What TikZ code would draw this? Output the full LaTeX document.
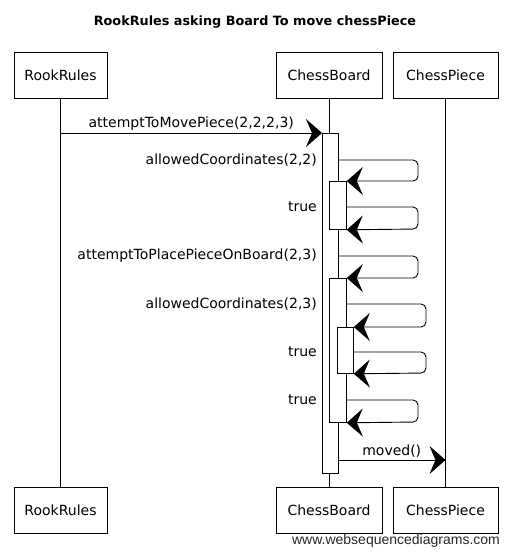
\documentclass[tikz,border=0pt]{standalone}
\usepackage{fontspec}
\setmainfont{DejaVu Sans}
\newfontfamily\wsdfont{Liberation Sans}
\usetikzlibrary{positioning,arrows.meta}

\begin{document}
\begin{tikzpicture}[
    x=1pt,y=-1pt,
    font=\fontsize{14}{16}\selectfont,
    actor/.style={draw,line width=0.8pt,fill=white,minimum height=46pt,inner sep=0pt},
    life/.style={line width=0.8pt},
    act/.style={draw,line width=0.8pt,fill=white,inner sep=0pt,anchor=north west},
    msg/.style={line width=0.9pt,-{Stealth[length=16pt,width=28pt,inset=6pt]}},
    self/.style={msg,rounded corners=5pt},
    lbl/.style={anchor=east,inner sep=1pt},
    ]
  \useasboundingbox (0,0) rectangle (511,557);

  \node[font=\bfseries\fontsize{12.8}{15}\selectfont] (title) at (255,22) {RookRules asking Board To move chessPiece};

  % participants, top and bottom
  \node[actor,minimum width=93pt]  (rrTop) at (60.5,75)  {RookRules};
  \node[actor,minimum width=106pt] (cbTop) at (329,75)   {ChessBoard};
  \node[actor,minimum width=105pt] (cpTop) at (445.5,75) {ChessPiece};
  \node[actor,minimum width=93pt]  (rrBot) at (60.5,510.5)  {RookRules};
  \node[actor,minimum width=106pt] (cbBot) at (329,510.5)   {ChessBoard};
  \node[actor,minimum width=105pt] (cpBot) at (445.5,510.5) {ChessPiece};

  % lifelines
  \draw[life] (rrTop) -- (rrBot);
  \draw[life] (cbTop) -- (cbBot);
  \draw[life] (cpTop) -- (cpBot);

  % activations
  \node[act,minimum width=16pt,minimum height=340pt] (act1) at (322,133) {};
  \node[act,minimum width=17pt,minimum height=48pt]  (act2) at (329,181) {};
  \node[act,minimum width=17pt,minimum height=144pt] (act3) at (329,278) {};
  \node[act,minimum width=16pt,minimum height=46pt]  (act4) at (337,327) {};

  % message start points
  \coordinate (m2) at (338,160);
  \coordinate (m3) at (346,207);
  \coordinate (m4) at (338,256);
  \coordinate (m5) at (346,304);
  \coordinate (m6) at (353,352);
  \coordinate (m7) at (346,400);
  \coordinate (m8) at (338,460);

  \draw[msg] (rrTop.south |- act1.north) -- node[above,inner sep=2pt] (l1) {attemptToMovePiece(2,2,2,3)} (act1.north west);

  \draw[self] (m2) -- (418,160) -- (418,181) -- (act2.north east);
  \node[lbl] (l2) at (318,160) {allowedCoordinates(2,2)};

  \draw[self] (m3) -- (418,207) -- (418,229) -- (act2.south east);
  \node[lbl] (l3) at (318,207) {true};

  \draw[self] (m4) -- (418,256) -- (418,278) -- (act3.north east);
  \node[lbl] (l4) at (318,256) {attemptToPlacePieceOnBoard(2,3)};

  \draw[self] (m5) -- (426,304) -- (426,327) -- (act4.north east);
  \node[lbl] (l5) at (318,304) {allowedCoordinates(2,3)};

  \draw[self] (m6) -- (426,352) -- (426,373) -- (act4.south east);
  \node[lbl] (l6) at (318,352) {true};

  \draw[self] (m7) -- (418,400) -- (418,422) -- (act3.south east);
  \node[lbl] (l7) at (318,400) {true};

  \draw[msg] (m8) -- node[above,inner sep=2pt] (l8) {moved()} (m8 -| cpTop.south);

  \node[font=\wsdfont\fontsize{14}{16}\selectfont,text=black!85] (wsd) at (396,541) {www.websequencediagrams.com};
\end{tikzpicture}
\end{document}
